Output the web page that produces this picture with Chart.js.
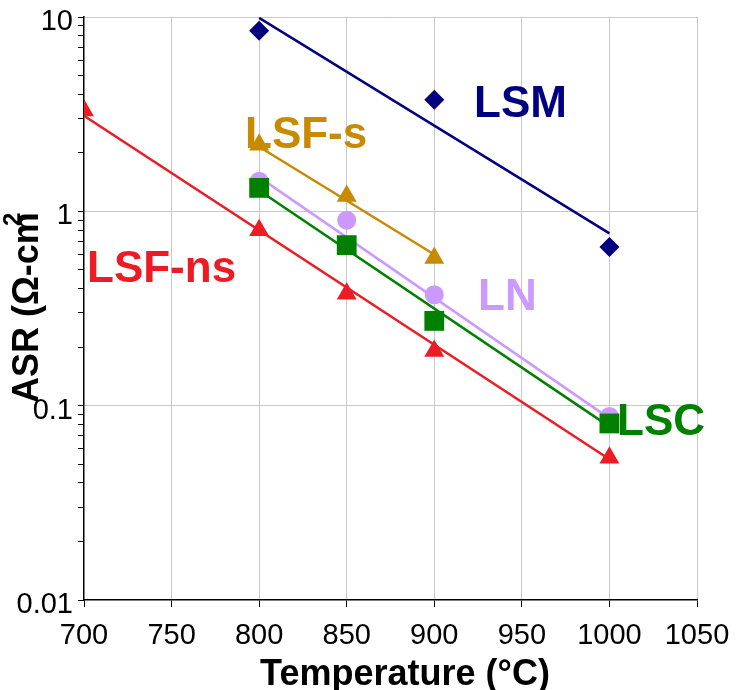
<!DOCTYPE html>
<html lang="en">
<head>
<meta charset="UTF-8">
<title>ASR vs Temperature</title>
<script src="https://cdn.jsdelivr.net/npm/chart.js"></script>
<style>
    body { margin: 0; background: #fff; }
    .wrap { width: 741px; height: 690px; }
</style>
</head>
<body>
<div class="wrap"><canvas id="asrChart" width="741" height="690"></canvas></div>
<script>
    // measured points: temperature (°C) and ASR (ohm-cm2)
    const lsmT = [800, 900, 1000];
    const lsmASR = [8.5, 3.75, 0.655];
    const lsfsT = [800, 850, 900];
    const lsfsASR = [2.2, 1.2, 0.575];
    const lnT = [800, 850, 900, 1000];
    const lnASR = [1.43, 0.9, 0.372, 0.088];
    const lscT = [800, 850, 900, 1000];
    const lscASR = [1.32, 0.67, 0.273, 0.081];
    const lsfnsT = [700, 800, 850, 900, 1000];
    const lsfnsASR = [3.3, 0.8, 0.377, 0.191, 0.054];

    // trend line end points
    const lsmFitT = [800, 1000];
    const lsmFit = [9.9, 0.77];
    const lsfsFitT = [800, 900];
    const lsfsFit = [2.15, 0.6];
    const lnFitT = [800, 1000];
    const lnFit = [1.5, 0.086];
    const lscFitT = [800, 1000];
    const lscFit = [1.28, 0.078];
    const lsfnsFitT = [700, 1000];
    const lsfnsFit = [3.1, 0.053];

    // axes
    const xTicks = [700, 750, 800, 850, 900, 950, 1000, 1050];
    const yTicks = [0.01, 0.02, 0.03, 0.04, 0.05, 0.06, 0.07, 0.08, 0.09,
                    0.1, 0.2, 0.3, 0.4, 0.5, 0.6, 0.7, 0.8, 0.9,
                    1, 2, 3, 4, 5, 6, 7, 8, 9, 10];
    const yLabels = [0.01, 0.1, 1, 10];

    const NAVY = '#000080';
    const GOLD = '#C88A00';
    const LAVENDER = '#CC99FF';
    const GREEN = '#008000';
    const RED = '#ED1C24';
    const FONT = "'Liberation Sans', Arial, sans-serif";

    function pts(t, v) {
        return t.map((x, i) => ({ x: x, y: v[i] }));
    }

    function markers(data, color, style, radius) {
        return {
            data: data, showLine: false, pointStyle: style, pointRadius: radius,
            pointBackgroundColor: color, pointBorderColor: color, pointBorderWidth: 0,
            order: 1
        };
    }

    function trend(data, color) {
        return {
            data: data, showLine: true, borderColor: color, borderWidth: 2.5,
            pointRadius: 0, fill: false, order: 2
        };
    }

    // series names and axis titles
    const textPlugin = {
        id: 'texts',
        afterDraw(chart) {
            const c = chart.ctx;
            c.save();
            c.textBaseline = 'alphabetic';
            c.textAlign = 'left';
            c.font = 'bold 44px ' + FONT;
            const names = [
                ['LSM', NAVY, 474, 117],
                ['LSF-s', GOLD, 245, 148],
                ['LSF-ns', RED, 87, 282],
                ['LN', LAVENDER, 478, 310],
                ['LSC', GREEN, 617, 435]
            ];
            names.forEach(n => {
                c.fillStyle = n[1];
                c.fillText(n[0], n[2], n[3]);
            });

            c.fillStyle = '#000';
            c.font = 'bold 36px ' + FONT;
            c.textAlign = 'center';
            c.fillText('Temperature (°C)', 405, 685);

            c.translate(38, 403);
            c.rotate(-Math.PI / 2);
            c.textAlign = 'left';
            const title = 'ASR (Ω-cm';
            c.fillText(title, 0, 0);
            const w = c.measureText(title).width;
            c.font = 'bold 24px ' + FONT;
            c.fillText('2', w - 14, -18);
            c.restore();
        }
    };

    const ctx = document.getElementById('asrChart').getContext('2d');
    new Chart(ctx, {
        type: 'scatter',
        data: {
            datasets: [
                markers(pts(lsmT, lsmASR), NAVY, 'rectRot', 10),
                markers(pts(lsfsT, lsfsASR), GOLD, 'triangle', 11.5),
                markers(pts(lscT, lscASR), GREEN, 'rect', 14),
                markers(pts(lnT, lnASR), LAVENDER, 'circle', 9.5),
                markers(pts(lsfnsT, lsfnsASR), RED, 'triangle', 11.5),
                trend(pts(lsmFitT, lsmFit), NAVY),
                trend(pts(lsfsFitT, lsfsFit), GOLD),
                trend(pts(lnFitT, lnFit), LAVENDER),
                trend(pts(lscFitT, lscFit), GREEN),
                trend(pts(lsfnsFitT, lsfnsFit), RED)
            ]
        },
        options: {
            responsive: false,
            animation: false,
            devicePixelRatio: 1,
            layout: { padding: { top: 17, right: 44, left: 0, bottom: 0 } },
            plugins: {
                legend: { display: false },
                tooltip: { enabled: false }
            },
            scales: {
                x: {
                    type: 'linear',
                    min: 700,
                    max: 1050,
                    afterBuildTicks: a => { a.ticks = xTicks.map(v => ({ value: v })); },
                    afterFit: s => { s.height = 90; s.paddingLeft = 0; s.paddingRight = 0; },
                    grid: {
                        color: c => (c.tick && c.tick.value === 700) ? 'rgba(0,0,0,0)' : '#c8c8c8',
                        tickColor: '#000',
                        tickLength: 7
                    },
                    border: { color: '#000', width: 1.5 },
                    ticks: {
                        font: { family: FONT, size: 29 },
                        color: '#000',
                        padding: 12,
                        maxRotation: 0,
                        autoSkip: false,
                        callback: v => String(v)
                    }
                },
                y: {
                    type: 'logarithmic',
                    min: 0.01,
                    max: 10,
                    afterBuildTicks: a => { a.ticks = yTicks.map(v => ({ value: v })); },
                    afterFit: s => { s.width = 84; s.paddingTop = 0; s.paddingBottom = 0; },
                    grid: {
                        color: c => (c.tick && yLabels.includes(c.tick.value) && c.tick.value !== 0.01) ? '#c8c8c8' : 'rgba(0,0,0,0)',
                        tickColor: '#000',
                        tickLength: 6
                    },
                    border: { color: '#000', width: 1.5 },
                    ticks: {
                        font: { family: FONT, size: 29 },
                        color: '#000',
                        padding: 5,
                        labelOffset: 5,
                        autoSkip: false,
                        callback: v => yLabels.includes(v) ? String(v) : ''
                    }
                }
            }
        },
        plugins: [textPlugin]
    });
</script>
</body>
</html>
